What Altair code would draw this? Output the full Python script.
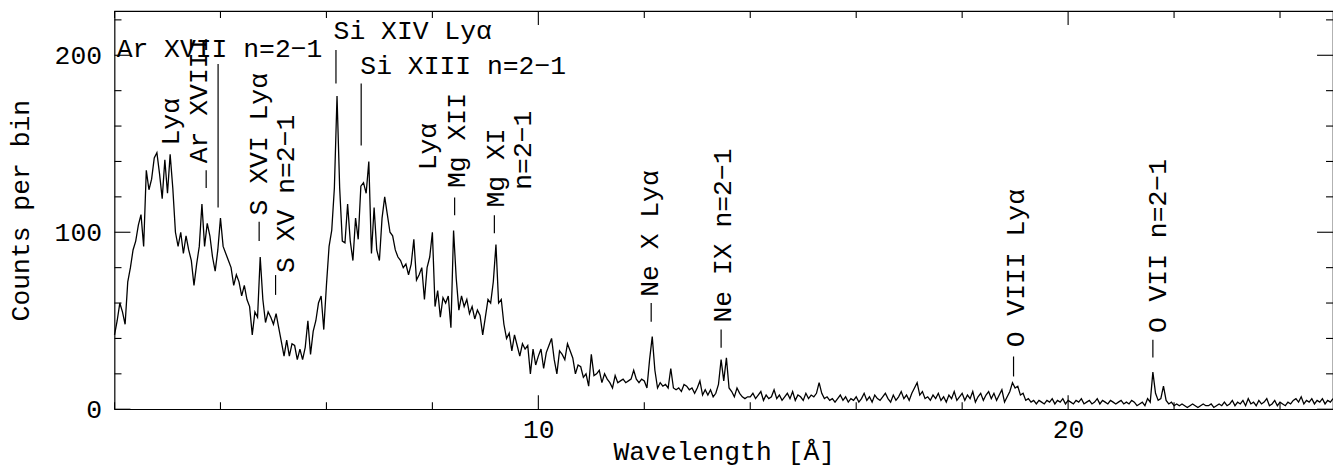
import altair as alt
import pandas as pd

# ---------------- spectrum (counts per 0.05 Å bin, starting at 2.00 Å) ----------------
BIN_START = 2.0
BIN_WIDTH = 0.05

c02 = [42, 50, 60, 55, 48, 72, 80, 90, 95, 104, 110, 92, 135, 124, 130, 142, 145, 133, 119, 141]
c03 = [122, 144, 125, 100, 92, 100, 88, 98, 90, 84, 70, 82, 92, 116, 92, 105, 98, 86, 78, 90]
c04 = [108, 92, 88, 84, 80, 70, 76, 72, 64, 70, 62, 58, 42, 55, 52, 86, 62, 49, 55, 52]
c05 = [48, 54, 46, 38, 30, 39, 30, 37, 36, 28, 34, 28, 35, 50, 31, 44, 50, 60, 64, 45]
c06 = [70, 92, 101, 125, 177, 125, 95, 94, 116, 95, 84, 108, 96, 126, 128, 122, 140, 88, 114, 90]
c07 = [84, 108, 120, 110, 100, 98, 90, 86, 84, 80, 82, 76, 82, 96, 73, 76, 80, 62, 80, 86]
c08 = [100, 58, 67, 52, 63, 60, 64, 46, 101, 74, 56, 64, 58, 62, 54, 58, 51, 56, 53, 42]
c09 = [52, 62, 60, 72, 93, 60, 62, 48, 40, 43, 33, 42, 36, 30, 37, 34, 36, 20, 34, 25]
c10 = [30, 34, 23, 32, 36, 40, 28, 20, 33, 31, 28, 37, 33, 29, 20, 25, 24, 18, 20, 13]
c11 = [31, 19, 20, 22, 15, 20, 17, 15, 12, 19, 15, 16, 17, 15, 16, 17, 22, 17, 15, 17]
c12 = [16, 12, 28, 41, 22, 12, 15, 13, 14, 12, 23, 12, 11, 12, 10, 14, 13, 11, 12, 9]
c13 = [12, 16, 8, 11, 8, 11, 7, 9, 14, 28, 16, 29, 12, 10, 7, 12, 9, 7, 6, 7]
c14 = [7, 9, 6, 8, 10, 5, 8, 6, 7, 11, 6, 8, 5, 7, 9, 6, 10, 5, 8, 7]
c15 = [5, 9, 6, 8, 7, 9, 15, 9, 6, 7, 5, 6, 4, 6, 8, 5, 7, 4, 6, 5]
c16 = [7, 4, 6, 9, 5, 7, 4, 8, 6, 5, 7, 9, 6, 4, 8, 5, 7, 10, 6, 8]
c17 = [5, 9, 12, 15, 8, 10, 6, 7, 5, 8, 6, 9, 5, 7, 4, 8, 6, 10, 5, 7]
c18 = [9, 5, 8, 6, 10, 4, 7, 9, 5, 8, 10, 6, 9, 5, 8, 11, 4, 7, 10, 15]
c19 = [12, 13, 8, 9, 5, 6, 4, 5, 3, 5, 4, 3, 5, 4, 6, 3, 5, 4, 6, 3]
c20 = [5, 4, 3, 5, 4, 6, 3, 4, 5, 3, 4, 6, 3, 5, 4, 3, 5, 4, 3, 4]
c21 = [5, 3, 4, 3, 5, 4, 2, 3, 4, 2, 6, 4, 21, 9, 5, 6, 13, 5, 3, 4]
c22 = [2, 3, 2, 3, 2, 1, 2, 3, 2, 1, 2, 3, 2, 2, 3, 1, 2, 3, 2, 4]
c23 = [2, 3, 5, 2, 4, 3, 5, 2, 6, 3, 4, 2, 5, 3, 4, 6, 2, 3, 5, 2]
c24 = [4, 3, 2, 4, 3, 5, 6, 4, 7, 3, 5, 4, 6, 3, 5, 4, 6, 3, 5, 4]
c25 = [6]

counts = (c02 + c03 + c04 + c05 + c06 + c07 + c08 + c09 + c10 + c11 + c12 + c13
          + c14 + c15 + c16 + c17 + c18 + c19 + c20 + c21 + c22 + c23 + c24 + c25)
wavelength = [round(BIN_START + BIN_WIDTH * i, 2) for i in range(len(counts))]

# ---------------- line identifications ----------------
# horizontal labels (left x in Å, baseline y in counts)
h_text = ["Ar XVII n=2\u22121", "Si XIV Ly\u03b1", "Si XIII n=2\u22121"]
h_x = [2.04, 6.135, 6.64]
h_y = [198.9, 209.0, 189.3]

# vertical marker segments (wavelength, lower and upper count)
mk_x = [3.955, 6.18, 6.656, 3.73, 4.73, 5.04, 8.42, 9.17, 12.13, 13.45, 18.97, 21.60]
mk_y1 = [114.0, 184.0, 149.0, 125.0, 95.0, 64.6, 109.6, 99.4, 49.4, 34.8, 18.5, 29.2]
mk_y2 = [195.0, 203.0, 184.0, 135.0, 106.0, 75.8, 119.7, 109.6, 60.0, 45.0, 29.8, 39.3]

# rotated labels (column centre in Å, start y in counts)
r_text = ["Ly\u03b1", "Ar XVIII", "S XVI Ly\u03b1", "S XV n=2\u22121", "Ly\u03b1", "Mg XII",
          "Mg XI", "n=2\u22121", "Ne X Ly\u03b1", "Ne IX n=2\u22121", "O VIII Ly\u03b1",
          "O VII n=2\u22121"]
r_x = [3.07, 3.60, 4.73, 5.23, 7.92, 8.47, 9.20, 9.71, 12.11, 13.48, 19.01, 21.70]
r_y = [149.0, 139.0, 109.5, 77.0, 135.0, 125.0, 114.0, 124.0, 63.5, 49.0, 35.0, 43.0]

# ---------------- axes ----------------
X_DOMAIN = [2, 25]
Y_DOMAIN = [0, 225]
X_LABELS = [10, 20]
Y_LABELS = [0, 100, 200]
X_MINOR = [2, 4, 6, 8, 12, 14, 16, 18, 22, 24]
Y_MINOR = [20, 40, 60, 80, 120, 140, 160, 180, 220]

W, H = 1224, 400
FONT = "Liberation Mono"
FS = 26.5

xs = alt.Scale(domain=X_DOMAIN, nice=False, zero=False)
ys = alt.Scale(domain=Y_DOMAIN, nice=False, zero=False)

x_axis = alt.Axis(values=X_LABELS, title="Wavelength [Å]", labelPadding=7,
                  titleX=612, titleY=51, titleBaseline="alphabetic", titleAlign="center")
y_axis = alt.Axis(values=Y_LABELS, title="Counts per bin", labelPadding=13,
                  titleAngle=270, titleX=-86, titleY=200,
                  titleBaseline="alphabetic", titleAlign="center")


def X(field):
    return alt.X(field, type="quantitative", scale=xs, axis=x_axis)


def Y(field):
    return alt.Y(field, type="quantitative", scale=ys, axis=y_axis)


spec_df = pd.DataFrame({"wl": wavelength, "counts": counts})

line = alt.Chart(spec_df).mark_line(color="black", strokeWidth=1.3).encode(
    x=X("wl"), y=Y("counts"),
)

markers = alt.Chart(pd.DataFrame({"wl": mk_x, "counts": mk_y1, "y2": mk_y2})).mark_rule(
    color="black", strokeWidth=1.2
).encode(x=X("wl"), y=Y("counts"), y2="y2:Q")

h_labels = alt.Chart(pd.DataFrame({"wl": h_x, "counts": h_y, "t": h_text})).mark_text(
    align="left", baseline="alphabetic", font=FONT, fontSize=FS, color="black"
).encode(x=X("wl"), y=Y("counts"), text="t:N")

r_labels = alt.Chart(pd.DataFrame({"wl": r_x, "counts": r_y, "t": r_text})).mark_text(
    align="left", baseline="middle", angle=270, font=FONT, fontSize=FS, color="black"
).encode(x=X("wl"), y=Y("counts"), text="t:N")


def xticks(vals, p0, p1):
    return alt.Chart(pd.DataFrame({"wl": vals})).mark_rule(color="black", strokeWidth=1.1).encode(
        x=X("wl"), y=alt.value(p0), y2=alt.value(p1))


def yticks(vals, p0, p1):
    return alt.Chart(pd.DataFrame({"counts": vals})).mark_rule(color="black", strokeWidth=1.1).encode(
        y=Y("counts"), x=alt.value(p0), x2=alt.value(p1))


ticks = [
    xticks(X_MINOR, H, H - 7), xticks(X_LABELS, H, H - 14),
    xticks(X_MINOR, 0, 7), xticks(X_LABELS, 0, 14),
    yticks(Y_MINOR, 0, 7), yticks(Y_LABELS, 0, 16),
    yticks(Y_MINOR, W, W - 7), yticks(Y_LABELS, W, W - 16),
]

chart = alt.layer(line, markers, h_labels, r_labels, *ticks).properties(
    width=W, height=H,
    autosize=alt.AutoSizeParams(type="none"),
    padding={"left": 107, "top": 2, "right": 0, "bottom": 57},
    background="white",
).configure_view(
    stroke="black", strokeWidth=1.2
).configure_axis(
    domain=False, ticks=False, tickSize=0, grid=False,
    labelFont=FONT, labelFontSize=FS, labelColor="black",
    titleFont=FONT, titleFontSize=FS, titleColor="black", titleFontWeight="normal",
)

chart.save("out.html", embed_options={"renderer": "svg", "actions": False})
